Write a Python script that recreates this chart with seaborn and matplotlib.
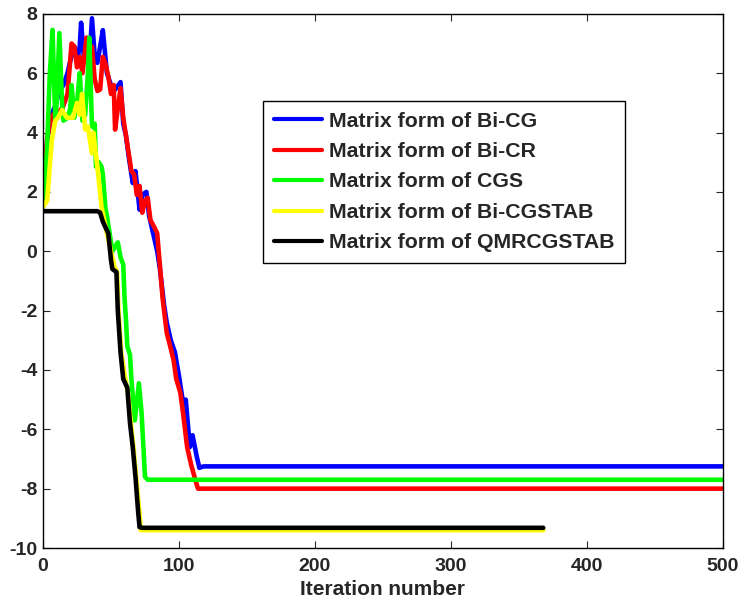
import matplotlib
matplotlib.use("Agg")
import matplotlib.pyplot as plt
from matplotlib import font_manager
import pandas as pd
import seaborn as sns

# values (iteration, log residual)
bicg_it = [0, 3, 6, 9, 12, 15, 18, 21, 23, 25, 27, 28, 30, 32, 34, 36, 38, 40, 42, 44,
           47, 50, 52, 54, 57, 59, 61, 63, 66, 68, 71, 73, 76, 78, 81, 84, 86, 89, 91, 94,
           97, 100, 103, 105, 108, 110, 113, 115, 118, 500]
bicg_res = [1.5, 3.7, 4.6, 4.9, 5.4, 5.6, 6.0, 6.6, 6.9, 6.4, 6.9, 7.7, 6.6, 6.9, 6.3, 7.85, 6.6, 6.35, 6.9, 7.45,
            6.0, 5.6, 5.4, 5.5, 5.7, 4.3, 3.9, 3.2, 2.3, 2.7, 1.4, 1.9, 2.0, 1.2, 0.6, 0.0, -0.6, -1.8, -2.4, -3.0,
            -3.4, -4.2, -5.1, -5.0, -6.6, -6.2, -6.9, -7.3, -7.25, -7.25]

bicr_it = [0, 3, 6, 9, 12, 15, 18, 21, 23, 25, 27, 29, 31, 32, 34, 36, 38, 40, 42, 44,
           46, 48, 50, 52, 53, 55, 57, 59, 61, 63, 65, 67, 69, 71, 73, 75, 77, 79, 82, 84,
           86, 88, 91, 93, 96, 98, 101, 103, 106, 109, 112, 114, 500]
bicr_res = [1.5, 3.8, 4.5, 4.7, 4.7, 4.9, 5.3, 7.0, 6.9, 6.2, 6.55, 6.0, 6.8, 7.2, 6.3, 6.9, 5.8, 5.4, 5.45, 6.55,
            6.3, 5.9, 5.3, 5.6, 4.1, 4.8, 5.5, 4.5, 3.9, 3.3, 2.7, 2.6, 1.9, 2.2, 1.3, 1.7, 1.8, 1.05, 0.8, 0.6,
            -0.5, -1.6, -2.75, -3.1, -3.66, -4.3, -4.77, -5.45, -6.6, -7.2, -7.7, -8.0, -8.0]

cgs_it = [0, 3, 5, 7, 9, 10, 12, 14, 15, 18, 20, 21, 23, 25, 27, 29, 31, 33, 34, 36,
          38, 39, 41, 43, 44, 46, 47, 49, 51, 53, 55, 57, 59, 60, 61, 62, 64, 65, 67.5, 70.5,
          72.5, 75, 77, 500]
cgs_res = [1.5, 3.5, 6.0, 7.46, 4.4, 5.0, 7.35, 5.0, 4.4, 4.5, 4.8, 5.6, 4.5, 5.0, 6.0, 4.4, 4.6, 6.0, 7.2, 4.2,
           4.3, 2.85, 3.0, 2.85, 2.6, 1.4, 1.2, 0.6, 0.0, 0.15, 0.3, -0.2, -0.45, -1.6, -2.3, -3.2, -3.5, -4.3, -5.7, -4.45,
           -5.45, -7.6, -7.7, -7.7]

bicgstab_it = [0, 3, 6.5, 9, 11, 14, 17.5, 22, 25, 27, 28.7, 31, 33, 36, 37, 40, 43, 47, 50, 52.5,
               54.5, 55.5, 57.5, 60.5, 62.5, 64.5, 66.5, 68.5, 70.5, 72, 368]
bicgstab_res = [1.5, 1.7, 3.75, 4.4, 4.5, 4.76, 4.5, 4.5, 5.0, 4.6, 5.3, 4.1, 4.2, 3.3, 4.0, 2.85, 1.5, 0.6, 0.0, -0.5,
                -0.7, -2.0, -3.4, -4.3, -4.8, -5.7, -6.6, -7.6, -8.6, -9.4, -9.4]

qmr_it = [0, 40, 42, 44, 46, 48, 50, 51, 54, 55, 57, 59, 62, 64, 66, 68, 70, 71, 73, 368]
qmr_res = [1.35, 1.35, 1.3, 1.0, 0.8, 0.6, -0.3, -0.6, -0.7, -2.0, -3.4, -4.3, -4.6, -5.8, -6.6, -7.6, -8.8, -9.3,
           -9.32, -9.32]

labels = ["Matrix form of Bi-CG", "Matrix form of Bi-CR", "Matrix form of CGS",
          "Matrix form of Bi-CGSTAB", "Matrix form of QMRCGSTAB"]
colors = ["#0000ff", "#ff0000", "#00ff00", "#ffff00", "#000000"]

frames = []
for lab, it, res in zip(labels,
                        [bicg_it, bicr_it, cgs_it, bicgstab_it, qmr_it],
                        [bicg_res, bicr_res, cgs_res, bicgstab_res, qmr_res]):
    frames.append(pd.DataFrame({"iter": it, "res": res, "method": lab}))
df = pd.concat(frames, ignore_index=True)

sns.set_style("ticks")
installed = {f.name for f in font_manager.fontManager.ttflist}
main_font = ["Liberation Sans", "DejaVu Sans"]
narrow_font = ["Liberation Sans Narrow"] + main_font if "Liberation Sans Narrow" in installed else main_font
plt.rcParams["font.family"] = main_font
plt.rcParams["font.weight"] = "bold"
plt.rcParams["axes.unicode_minus"] = False

fig = plt.figure(figsize=(7.42, 6.02), dpi=100)
ax = fig.add_axes([0.058, 0.0897, 0.916, 0.8873])

sns.lineplot(data=df, x="iter", y="res", hue="method", hue_order=labels,
             palette=dict(zip(labels, colors)), estimator=None, sort=False,
             linewidth=3.3, ax=ax)

ax.set_xlim(0, 500)
ax.set_ylim(-10, 8)
ax.set_xticks(range(0, 501, 100))
ax.set_yticks(range(-10, 9, 2))
ax.tick_params(direction="in", top=True, right=True, length=5, width=0.8,
               labelsize=14, pad=4)
ax.tick_params(axis="x", pad=7)
for lab in ax.get_xticklabels() + ax.get_yticklabels():
    lab.set_family(narrow_font)
    lab.set_fontweight("bold")
for sp in ax.spines.values():
    sp.set_linewidth(1.0)
    sp.set_color("black")

ax.set_xlabel("Iteration number", fontsize=15, fontweight="bold", family=narrow_font, labelpad=4)
ax.set_ylabel("")

leg = ax.legend(loc="upper left", bbox_to_anchor=(0.3235, 0.837), borderaxespad=0,
                fancybox=False, edgecolor="black", framealpha=1,
                handlelength=2.3, labelspacing=0.54, borderpad=0.5, handletextpad=0.3,
                prop={"weight": "bold", "size": 15.3})
leg.get_frame().set_linewidth(1.0)
for line in leg.get_lines():
    line.set_linewidth(3.0)

fig.savefig("out.png", dpi=100)
